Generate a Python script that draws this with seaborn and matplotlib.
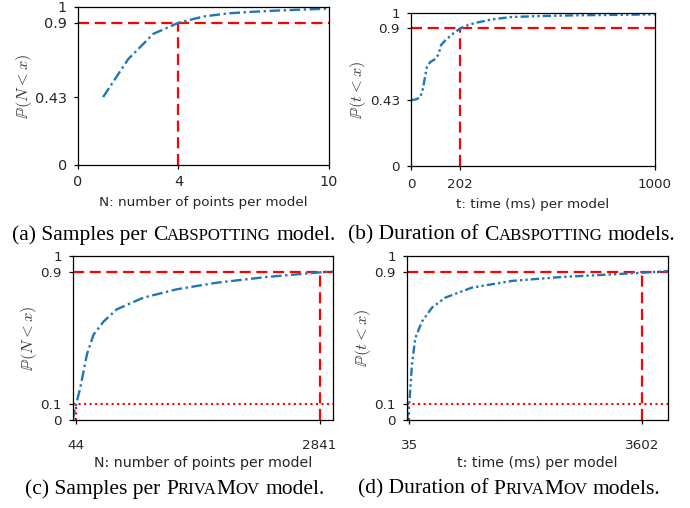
import numpy as np
import pandas as pd
import matplotlib
matplotlib.use("Agg")
import matplotlib.pyplot as plt
from matplotlib.offsetbox import TextArea, HPacker, AnchoredOffsetbox
import seaborn as sns


# (a) samples per Cabspotting model: N vs P(N < x)
cab_n = [1, 2, 3, 4, 5, 6, 7, 8, 9, 10]
cab_n_cdf = [0.43, 0.67, 0.83, 0.90, 0.94, 0.96, 0.97, 0.978, 0.984, 0.99]

# (b) duration of Cabspotting models: t (ms) vs P(t < x)
cab_t = [0, 20, 38, 48, 65, 79, 100, 113, 123, 140, 168, 202, 240, 277, 330,
         413, 550, 686, 850, 1000]
cab_t_cdf = [0.43, 0.435, 0.45, 0.50, 0.647, 0.68, 0.70, 0.73, 0.79, 0.82,
             0.86, 0.90, 0.925, 0.94, 0.958, 0.974, 0.981, 0.985, 0.988, 0.991]

# (c) samples per PrivaMov model
pm_n = [6, 20, 44, 90, 166, 242, 357, 510, 816, 1198, 1656, 2230, 2841, 2995]
pm_n_cdf = [0.0, 0.05, 0.10, 0.197, 0.40, 0.52, 0.60, 0.675, 0.746, 0.797,
            0.837, 0.872, 0.90, 0.905]

# (d) duration of PrivaMov models
pm_t = [0, 15, 35, 76, 127, 229, 382, 585, 992, 1603, 2366, 3129, 3602, 3995]
pm_t_cdf = [0.0, 0.04, 0.10, 0.34, 0.50, 0.60, 0.685, 0.746, 0.807, 0.848,
            0.872, 0.888, 0.898, 0.908]

# quantile markers
q90 = [4, 202, 2841, 3602]
q10 = [None, None, 44, 35]
yticks_top = [0, 0.43, 0.9, 1]
yticks_bottom = [0, 0.1, 0.9, 1]
xticks = [[0, 4, 10], [0, 202, 1000], [44, 2841], [35, 3602]]
xlabels = ["N: number of points per model", "t: time (ms) per model",
           "N: number of points per model", "t: time (ms) per model"]
ylabels = [r"$\mathbb{P}(N < x)$", r"$\mathbb{P}(t < x)$",
           r"$\mathbb{P}(N < x)$", r"$\mathbb{P}(t < x)$"]

# caption pieces: (text, small caps?)
captions = [
    [("(a) Samples per", 0), ("C", 0), ("ABSPOTTING", 1), ("model.", 0)],
    [("(b) Duration of", 0), ("C", 0), ("ABSPOTTING", 1), ("models.", 0)],
    [("(c) Samples per", 0), ("P", 0), ("RIVA", 1), ("M", 0), ("OV", 1), ("model.", 0)],
    [("(d) Duration of", 0), ("P", 0), ("RIVA", 1), ("M", 0), ("OV", 1), ("models.", 0)],
]


def draw_caption(fig, pieces, x, y, size=15.5):
    props_big = dict(family="Liberation Serif", size=size, color="black")
    props_small = dict(family="Liberation Serif", size=size * 0.78, color="black")
    # first and last pieces are plain words, the middle is the small-caps name
    first = TextArea(pieces[0][0], textprops=props_big)
    last = TextArea(pieces[-1][0], textprops=props_big)
    name_parts = []
    for text, small in pieces[1:-1]:
        name_parts.append(TextArea(text, textprops=props_small if small else props_big))
    name = HPacker(children=name_parts, align="baseline", pad=0, sep=0)
    box = HPacker(children=[first, name, last], align="baseline", pad=0,
                  sep=size * 0.25)
    anchored = AnchoredOffsetbox(loc="center", child=box, pad=0, borderpad=0,
                                 frameon=False, bbox_to_anchor=(x, y),
                                 bbox_transform=fig.transFigure)
    fig.add_artist(anchored)


def draw_panel(ax, x, y, style, q_hi, q_lo, xt, yt, xlab, ylab, xlim,
               tick_fs, lab_fs, xpad, labelpad):
    sns.lineplot(x=x, y=y, ax=ax, color="#1f77b4", linewidth=1.7,
                 linestyle=style, errorbar=None)
    ax.axhline(0.9, color="red", linewidth=1.6, linestyle=(0, (5, 2.5)), zorder=1)
    ax.vlines(q_hi, 0, 0.9, color="red", linewidth=1.6,
              linestyles=[(0, (5, 2.5))], zorder=1)
    if q_lo is not None:
        ax.axhline(0.1, color="red", linewidth=1.5, linestyle=":", zorder=1)
        ax.vlines(q_lo, 0, 0.1, color="red", linewidth=1.5, linestyles=":", zorder=1)
    ax.set_xlim(*xlim)
    ax.set_ylim(0, 1)
    ax.set_xticks(xt)
    ax.set_xticklabels([str(v) for v in xt])
    ax.set_yticks(yt)
    ax.set_yticklabels(["0" if v == 0 else ("1" if v == 1 else str(v)) for v in yt])
    ax.tick_params(labelsize=tick_fs, length=3, width=0.9, color="black",
                   direction="out")
    ax.tick_params(axis="y", pad=5)
    ax.tick_params(axis="x", pad=xpad)
    ax.set_xlabel(xlab, fontsize=lab_fs, labelpad=labelpad)
    ax.set_ylabel(ylab, fontsize=11.8, color="#3a3a3a", labelpad=1)
    for sp in ax.spines.values():
        sp.set_visible(True)
        sp.set_linewidth(0.9)
        sp.set_color("black")


def main():
    sns.set_style("ticks")
    plt.rcParams["font.family"] = ["DejaVu Sans"]
    plt.rcParams["mathtext.fontset"] = "cm"

    fig = plt.figure(figsize=(6.9, 5.08), dpi=100)
    W, H = 690, 508

    def rect(l, r, t, b):
        return [l / W, 1 - b / H, (r - l) / W, (b - t) / H]

    ax_a = fig.add_axes(rect(78, 329, 7, 165))
    ax_b = fig.add_axes(rect(411, 655, 13, 166))
    ax_c = fig.add_axes(rect(73, 333, 256, 420))
    ax_d = fig.add_axes(rect(407, 668, 256, 420))

    dash_dot = (0, (4.5, 1.5, 1, 1.5))
    dash_dot_dot = (0, (3.5, 1.3, 1, 1.3, 1, 1.3))

    draw_panel(ax_a, cab_n, cab_n_cdf, dash_dot, q90[0], q10[0], xticks[0],
               yticks_top, xlabels[0], ylabels[0], (0, 10), 10.4, 9.7, 4.5, 4.5)
    draw_panel(ax_b, cab_t, cab_t_cdf, dash_dot_dot, q90[1], q10[1], xticks[1],
               yticks_top, xlabels[1], ylabels[1], (0, 1000), 9.7, 9.7, 6, 5)
    draw_panel(ax_c, pm_n, pm_n_cdf, dash_dot, q90[2], q10[2], xticks[2],
               yticks_bottom, xlabels[2], ylabels[2], (min(pm_n), max(pm_n)),
               9.7, 10.2, 11, 2.5)
    draw_panel(ax_d, pm_t, pm_t_cdf, dash_dot_dot, q90[3], q10[3], xticks[3],
               yticks_bottom, xlabels[3], ylabels[3], (min(pm_t), max(pm_t)),
               9.7, 10.2, 11, 2.5)

    draw_caption(fig, captions[0], 174 / W, 1 - 235 / H)
    draw_caption(fig, captions[1], 512 / W, 1 - 235 / H)
    draw_caption(fig, captions[2], 175 / W, 1 - 489 / H)
    draw_caption(fig, captions[3], 509 / W, 1 - 489 / H)

    fig.savefig("out.png", dpi=100)


if __name__ == "__main__":
    main()
